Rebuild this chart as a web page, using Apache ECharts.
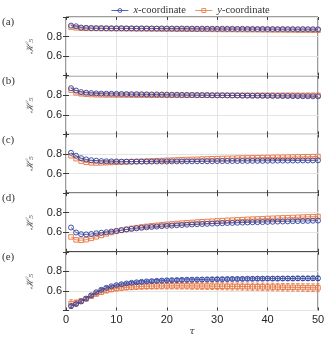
<!DOCTYPE html>
<html>
<head>
<meta charset="utf-8">
<script src="https://cdn.jsdelivr.net/npm/echarts@6/dist/echarts.min.js"></script>
<style>
  html, body { margin: 0; padding: 0; background: #fff; }
  #chart { width: 335px; height: 345px; }
</style>
</head>
<body>
<div id="chart"></div>
<script>
const tau = [1,2,3,4,5,6,7,8,9,10,11,12,13,14,15,16,17,18,19,20,21,22,23,24,25,
  26,27,28,29,30,31,32,33,34,35,36,37,38,39,40,41,42,43,44,45,46,47,48,49,50]

const panelLabels = ['(a)', '(b)', '(c)', '(d)', '(e)']
const xTicks = [0, 10, 20, 30, 40, 50]
const yTicks = [0.6, 0.8]

// panel (a)
const aX = [0.912,0.905,0.892,0.889,0.887,0.886,0.886,0.885,0.885,0.884,
  0.885,0.884,0.884,0.883,0.884,0.883,0.883,0.882,0.883,0.882,
  0.882,0.881,0.882,0.881,0.881,0.880,0.881,0.880,0.880,0.879,
  0.880,0.879,0.879,0.878,0.879,0.878,0.878,0.877,0.878,0.877,
  0.877,0.876,0.877,0.876,0.876,0.875,0.876,0.875,0.875,0.874]
const aY = [0.896,0.889,0.885,0.884,0.883,0.883,0.882,0.882,0.881,0.881,
  0.881,0.880,0.880,0.879,0.879,0.879,0.878,0.878,0.877,0.877,
  0.877,0.876,0.876,0.875,0.875,0.875,0.874,0.874,0.873,0.873,
  0.872,0.872,0.872,0.871,0.871,0.870,0.870,0.870,0.869,0.869,
  0.868,0.868,0.868,0.867,0.867,0.866,0.866,0.866,0.865,0.865]

// panel (b)
const bX = [0.872,0.848,0.832,0.826,0.822,0.819,0.817,0.816,0.815,0.814,
  0.813,0.812,0.811,0.811,0.810,0.809,0.808,0.808,0.807,0.806,
  0.805,0.805,0.804,0.803,0.803,0.802,0.801,0.801,0.800,0.799,
  0.799,0.798,0.798,0.797,0.796,0.796,0.795,0.795,0.794,0.794,
  0.793,0.793,0.792,0.792,0.791,0.791,0.790,0.790,0.789,0.789]
const bY = [0.852,0.826,0.815,0.810,0.807,0.805,0.804,0.803,0.803,0.802,
  0.802,0.802,0.801,0.801,0.801,0.801,0.800,0.800,0.800,0.800,
  0.800,0.800,0.799,0.800,0.800,0.799,0.800,0.800,0.799,0.800,
  0.800,0.800,0.799,0.800,0.800,0.800,0.799,0.800,0.800,0.800,
  0.800,0.799,0.800,0.800,0.800,0.800,0.799,0.800,0.800,0.800]

// panel (c)
const cX = [0.812,0.782,0.757,0.744,0.736,0.731,0.727,0.725,0.724,0.723,
  0.722,0.722,0.722,0.722,0.722,0.722,0.722,0.723,0.723,0.723,
  0.724,0.724,0.724,0.725,0.725,0.725,0.726,0.726,0.726,0.727,
  0.727,0.728,0.728,0.728,0.729,0.729,0.730,0.730,0.730,0.731,
  0.731,0.732,0.732,0.732,0.733,0.733,0.734,0.734,0.734,0.735]
const cY = [0.782,0.752,0.727,0.714,0.709,0.708,0.709,0.711,0.713,0.715,
  0.717,0.719,0.721,0.723,0.725,0.727,0.729,0.731,0.733,0.735,
  0.737,0.739,0.741,0.743,0.745,0.746,0.748,0.749,0.751,0.752,
  0.754,0.755,0.756,0.758,0.759,0.760,0.761,0.762,0.763,0.764,
  0.765,0.766,0.767,0.768,0.769,0.770,0.771,0.772,0.773,0.774]

// panel (d)
const dX = [0.648,0.597,0.580,0.578,0.582,0.589,0.595,0.600,0.607,0.614,
  0.621,0.628,0.634,0.640,0.645,0.650,0.654,0.658,0.662,0.665,
  0.668,0.671,0.674,0.677,0.680,0.682,0.684,0.686,0.688,0.690,
  0.692,0.694,0.695,0.697,0.699,0.700,0.702,0.703,0.704,0.706,
  0.707,0.709,0.710,0.711,0.713,0.714,0.715,0.716,0.718,0.719]
const dY = [0.552,0.522,0.518,0.524,0.537,0.553,0.568,0.583,0.597,0.609,
  0.620,0.630,0.639,0.647,0.654,0.660,0.666,0.671,0.676,0.681,
  0.685,0.689,0.693,0.697,0.700,0.704,0.707,0.710,0.713,0.716,
  0.719,0.722,0.724,0.727,0.729,0.732,0.734,0.736,0.738,0.741,
  0.743,0.745,0.747,0.749,0.751,0.753,0.755,0.757,0.759,0.761]

// panel (e)
const eX = [0.445,0.466,0.492,0.522,0.555,0.587,0.612,0.632,0.647,0.659,
  0.668,0.676,0.683,0.688,0.693,0.697,0.700,0.703,0.706,0.708,
  0.710,0.711,0.713,0.714,0.715,0.716,0.717,0.718,0.719,0.720,
  0.720,0.721,0.722,0.722,0.723,0.724,0.724,0.725,0.725,0.726,
  0.726,0.726,0.727,0.727,0.727,0.728,0.728,0.728,0.729,0.729]
const eY = [0.470,0.478,0.497,0.520,0.546,0.569,0.588,0.603,0.615,0.624,
  0.631,0.636,0.640,0.643,0.646,0.648,0.649,0.650,0.651,0.652,
  0.652,0.652,0.652,0.652,0.651,0.651,0.650,0.650,0.649,0.648,
  0.648,0.647,0.646,0.646,0.645,0.644,0.643,0.643,0.642,0.641,
  0.640,0.639,0.638,0.637,0.637,0.636,0.635,0.634,0.633,0.632]
const eXErr = [0.020,0.016,0.014,0.013,0.012,0.012,0.012,0.012,0.012,0.012,
  0.013,0.013,0.013,0.013,0.014,0.014,0.014,0.014,0.015,0.015,
  0.015,0.015,0.016,0.016,0.016,0.016,0.017,0.017,0.017,0.017,
  0.018,0.018,0.018,0.018,0.018,0.019,0.019,0.019,0.019,0.019,
  0.020,0.020,0.020,0.020,0.020,0.021,0.021,0.021,0.021,0.021]
const eYErr = [0.040,0.030,0.025,0.022,0.020,0.020,0.021,0.022,0.023,0.024,
  0.025,0.026,0.027,0.028,0.029,0.030,0.030,0.031,0.031,0.032,
  0.032,0.033,0.033,0.033,0.034,0.034,0.034,0.035,0.035,0.035,
  0.036,0.036,0.036,0.036,0.037,0.037,0.037,0.037,0.038,0.038,
  0.038,0.038,0.038,0.039,0.039,0.039,0.039,0.040,0.040,0.040]

const panelsX = [aX, bX, cX, dX, eX]
const panelsY = [aY, bY, cY, dY, eY]

const BLUE = '#2f3f9e'
const ORANGE = '#e8733f'
const AXIS = '#3a3a3a'

const gridTop = 17
const gridH = 58.7

const chart = echarts.init(document.getElementById('chart'))

const grids = panelLabels.map((_, i) => ({
  left: 66, right: 17, top: gridTop + i * gridH, height: gridH,
  show: true, borderColor: AXIS, borderWidth: 1, containLabel: false
}))

const xAxes = []
const yAxes = []
panelLabels.forEach((_, i) => {
  const last = i === panelLabels.length - 1
  xAxes.push({
    type: 'value', gridIndex: i, min: xTicks[0], max: xTicks[xTicks.length - 1], interval: 10,
    axisLine: { show: false },
    axisTick: { show: true, inside: true, length: 3, lineStyle: { color: AXIS } },
    splitLine: { show: true, lineStyle: { color: '#e4e4e4', width: 1 } },
    axisLabel: { show: last, color: '#262626', fontFamily: 'Liberation Sans', fontSize: 11, margin: 4 },
    name: last ? 'τ' : '', nameLocation: 'middle', nameGap: 15,
    nameTextStyle: { fontFamily: 'DejaVu Serif', fontStyle: 'italic', fontSize: 10, color: '#444' }
  })
  yAxes.push({
    type: 'value', gridIndex: i, min: 0.4, max: 1.0, interval: 0.2,
    axisLine: { show: false },
    axisTick: { show: true, inside: true, length: 3, lineStyle: { color: AXIS } },
    splitLine: { show: true, lineStyle: { color: '#e4e4e4', width: 1 } },
    axisLabel: {
      color: '#262626', fontFamily: 'Liberation Sans', fontSize: 11, margin: 4,
      formatter: v => yTicks.some(t => Math.abs(t - v) < 1e-6) ? v.toFixed(1) : ''
    },
    name: 'ℋ₅', nameLocation: 'middle', nameGap: 24, nameRotate: 90,
    nameTextStyle: { fontFamily: 'DejaVu Serif', fontStyle: 'italic', fontSize: 10, color: '#555' }
  })
})
// mirrored axes for the top and right ticks
panelLabels.forEach((_, i) => {
  xAxes.push({
    type: 'value', gridIndex: i, position: 'top', min: 0, max: 50, interval: 10,
    axisLine: { show: false }, splitLine: { show: false }, axisLabel: { show: false },
    axisTick: { show: true, inside: true, length: 3, lineStyle: { color: AXIS } }
  })
  yAxes.push({
    type: 'value', gridIndex: i, position: 'right', min: 0.4, max: 1.0, interval: 0.2,
    axisLine: { show: false }, splitLine: { show: false }, axisLabel: { show: false },
    axisTick: { show: true, inside: true, length: 3, lineStyle: { color: AXIS } }
  })
})

const lineSeries = (name, vals, i, color, symbol, z) => ({
  name, type: 'line', xAxisIndex: i, yAxisIndex: i, z,
  data: tau.map((t, k) => [t, vals[k]]),
  symbol, symbolSize: symbol === 'rect' ? 4.5 : 5,
  showAllSymbol: true,
  lineStyle: { color, width: 0.8 },
  itemStyle: { color: 'transparent', borderColor: color, borderWidth: 0.9 },
  emphasis: { disabled: true },
  animation: false
})

const errSeries = (vals, errs, i, color, z) => ({
  type: 'custom', xAxisIndex: i, yAxisIndex: i, z, silent: true,
  data: tau.map((t, k) => [t, vals[k], errs[k]]),
  renderItem: (params, api) => {
    const x = api.value(0), y = api.value(1), e = api.value(2)
    const top = api.coord([x, y + e])
    const bot = api.coord([x, y - e])
    const style = { stroke: color, lineWidth: 0.8, fill: null }
    return {
      type: 'group',
      children: [
        { type: 'line', shape: { x1: top[0], y1: top[1], x2: bot[0], y2: bot[1] }, style },
        { type: 'line', shape: { x1: top[0] - 1.8, y1: top[1], x2: top[0] + 1.8, y2: top[1] }, style },
        { type: 'line', shape: { x1: bot[0] - 1.8, y1: bot[1], x2: bot[0] + 1.8, y2: bot[1] }, style }
      ]
    }
  },
  animation: false
})

const series = []
panelLabels.forEach((_, i) => {
  series.push(lineSeries('y-coordinate', panelsY[i], i, ORANGE, 'rect', 3))
  series.push(lineSeries('x-coordinate', panelsX[i], i, BLUE, 'circle', 4))
})
series.push(errSeries(eY, eYErr, 4, ORANGE, 2))
series.push(errSeries(eX, eXErr, 4, BLUE, 2))

const option = {
  backgroundColor: '#fff',
  animation: false,
  legend: {
    data: ['x-coordinate', 'y-coordinate'],
    top: 0, left: 106, itemWidth: 17, itemHeight: 5, itemGap: 9,
    itemStyle: { borderWidth: 0.8 },
    lineStyle: { width: 0.8 },
    formatter: n => '{i|' + n[0] + '}' + n.slice(1),
    textStyle: {
      fontFamily: 'Liberation Serif', fontSize: 10.5, color: '#333',
      rich: { i: { fontFamily: 'Liberation Serif', fontStyle: 'italic', fontSize: 10.5, color: '#333' } }
    }
  },
  grid: grids,
  xAxis: xAxes,
  yAxis: yAxes,
  series,
  graphic: panelLabels.map((lab, i) => ({
    type: 'text', left: 2, top: gridTop + i * gridH,
    style: { text: lab, fontFamily: 'Liberation Serif', fontSize: 11, fill: '#333' }
  }))
}

chart.setOption(option)
</script>
</body>
</html>
